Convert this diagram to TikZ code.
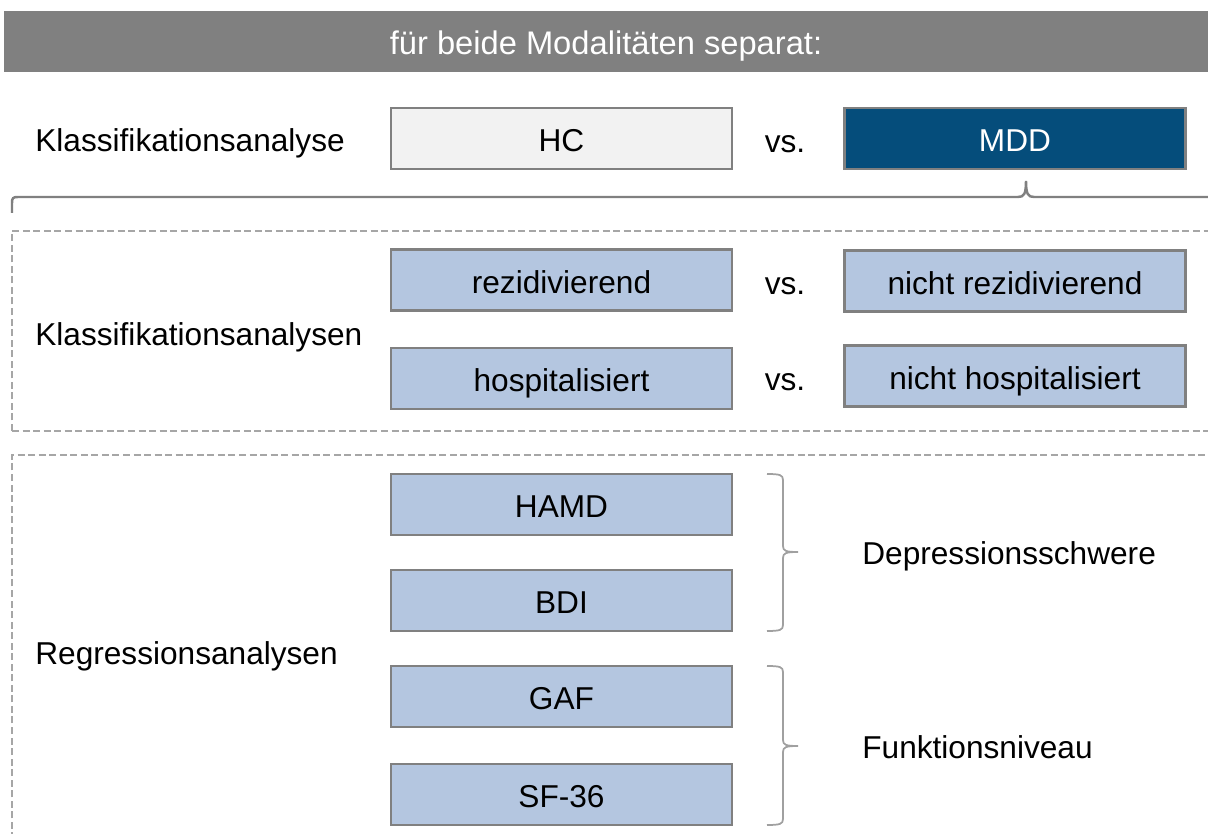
\documentclass[tikz,border=0pt]{standalone}
\usepackage{fontspec}
\setmainfont{Liberation Sans}
\usepackage{tikz}
\usetikzlibrary{positioning}
\usepackage{xcolor}
\definecolor{hdgray}{RGB}{128,128,128}
\definecolor{edgegray}{RGB}{128,128,128}
\definecolor{hcfill}{RGB}{242,242,242}
\definecolor{mddblue}{RGB}{5,77,123}
\definecolor{subblue}{RGB}{180,198,224}
\definecolor{dashgray}{RGB}{166,166,166}
\definecolor{bracegray}{RGB}{160,160,160}
\tikzstyle{txt} = [font=\fontsize{18}{21}\selectfont, inner sep=0pt, text height=15pt, text depth=0pt]
\tikzstyle{cbox} = [txt, draw=edgegray, line width=1.2pt, minimum width=6.82cm, minimum height=1.22cm]
\tikzstyle{subbox} = [cbox, fill=subblue]
\tikzstyle{frame} = [dashgray, line width=0.9pt, dash pattern=on 4pt off 2pt]

\begin{document}
\begin{tikzpicture}[x=0.02cm, y=-0.02cm]
\useasboundingbox (0,0) rectangle (1208,834);

% Header
\node[txt, font=\fontsize{18.6}{21}\selectfont, fill=hdgray, text=white, minimum width=24.08cm, minimum height=1.22cm] (head) at (606,41.5) {für beide Modalitäten separat:};

% HC vs. MDD
\node[txt, anchor=west] (klass) at (35,138) {Klassifikationsanalyse};
\node[cbox, fill=hcfill] (hc) at (561.5,138.5) {HC};
\node[txt] (vs0) at (785,139) {vs.};
\node[cbox, fill=mddblue, text=white] (mdd) at (1015,138.5) {MDD};

% Brace under MDD
\draw[edgegray, line width=1.4pt] (12,213) -- (12,203) .. controls (12,198) and (13,197) .. (18,197) -- (1018,197)
  .. controls (1024,197) and (1026,194) .. (1026,181) .. controls (1026,194) and (1028,197) .. (1034,197) -- (1230,197);

% Klassifikationsanalysen
\draw[frame] (12,431) -- (12,231) -- (1230,231);
\draw[frame] (12,431) -- (1230,431);
\node[txt, anchor=west] (klassn) at (35,332) {Klassifikationsanalysen};
\node[subbox] (rez) at (561.5,280) {rezidivierend};
\node[txt] (vs1) at (785,281) {vs.};
\node[subbox] (nrez) at (1015,281) {nicht rezidivierend};
\node[subbox] (hosp) at (561.5,378.5) {hospitalisiert};
\node[txt] (vs2) at (785,377.5) {vs.};
\node[subbox] (nhosp) at (1015,376) {nicht hospitalisiert};

% Regressionsanalysen
\draw[frame] (12,850) -- (12,455) -- (1230,455);
\node[txt, anchor=west] (regr) at (35,651) {Regressionsanalysen};
\node[subbox] (hamd) at (561.5,504.5) {HAMD};
\node[subbox] (bdi) at (561.5,600.5) {BDI};
\node[subbox] (gaf) at (561.5,696.5) {GAF};
\node[subbox] (sf) at (561.5,794.5) {SF-36};

% Right braces
\draw[bracegray, line width=1pt] (767,474) .. controls (780,474) and (783,475) .. (783,480) -- (783,546)
  .. controls (783,551) and (786,552) .. (798,552) .. controls (786,552) and (783,553) .. (783,558)
  -- (783,625) .. controls (783,630) and (780,631) .. (767,631);
\node[txt, anchor=west] (schwere) at (862,551) {Depressionsschwere};
\draw[bracegray, line width=1pt] (767,666) .. controls (780,666) and (783,667) .. (783,672) -- (783,740)
  .. controls (783,745) and (786,746) .. (798,746) .. controls (786,746) and (783,747) .. (783,752)
  -- (783,819) .. controls (783,824) and (780,825) .. (767,825);
\node[txt, anchor=west] (niveau) at (862,745) {Funktionsniveau};
\end{tikzpicture}
\end{document}
